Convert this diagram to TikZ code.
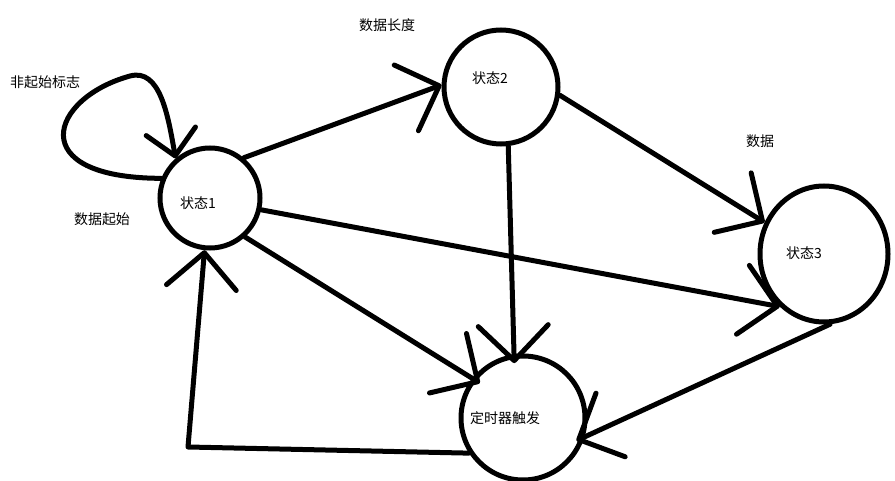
\documentclass[tikz,border=0pt]{standalone}
\usepackage{fontspec}
\newfontfamily\cjkfont{Noto Sans CJK SC}
\usetikzlibrary{arrows.meta,shapes.geometric}
\tikzset{
  st circle/.style={draw,circle,line width=5pt,inner sep=0pt},
  st oval/.style={draw,ellipse,line width=5pt,inner sep=0pt},
  st edge/.style={line width=5pt,line cap=round,line join=round,-{Straight Barb[length=35pt,width=70pt,round]}},
  st loop/.style={st edge,-{Straight Barb[length=25pt,width=50pt,round]}},
  st note/.style={font=\cjkfont\fontsize{14}{16}\selectfont,inner sep=0pt}
}
\begin{document}
\begin{tikzpicture}[x=1pt,y=-1pt]
  \useasboundingbox (0,0) rectangle (895,481);
  % states
  \node[st circle,minimum size=100pt,label={[st note,xshift=-12pt,yshift=-5pt]center:状态1}] (s1) at (210,198) {};
  \node[st circle,minimum size=114pt,label={[st note,xshift=-11pt,yshift=9pt]center:状态2}] (s2) at (501,87) {};
  \node[st oval,minimum width=128pt,minimum height=136pt,label={[st note,xshift=-20pt,yshift=1pt]center:状态3}] (s3) at (824,254) {};
  \node[st circle,minimum size=124pt,label={[st note,xshift=-18pt]center:定时器触发}] (timer) at (523,418) {};
  \coordinate (corner) at (188,447);
  % notes
  \node[st note] (nstart) at (45,82) {非起始标志};
  \node[st note] (dstart) at (102,219) {数据起始};
  \node[st note] (dlen) at (387,25) {数据长度};
  \node[st note] (dval) at (760,141) {数据};
  % transitions
  \draw[st loop] (s1.158) .. controls (22,178) and (50,98) .. (130,76)
    .. controls (160,68) and (168,115) .. (s1.131);
  \draw[st edge] (s1.50) -- (s2.178);
  \draw[st edge] (s2.-8) -- (s3.152);
  \draw[st edge] (s1.-13) -- (s3.230);
  \draw[st edge,shorten >=-9pt] (s2.-83) -- (timer.98);
  \draw[st edge,shorten >=-9pt] (s1.-48) -- (timer.142);
  \draw[st edge,shorten >=-9pt] (s3.-85) -- (timer.-17);
  \draw[st edge] (timer.213) -- (corner) -- (s1.264);
\end{tikzpicture}
\end{document}
